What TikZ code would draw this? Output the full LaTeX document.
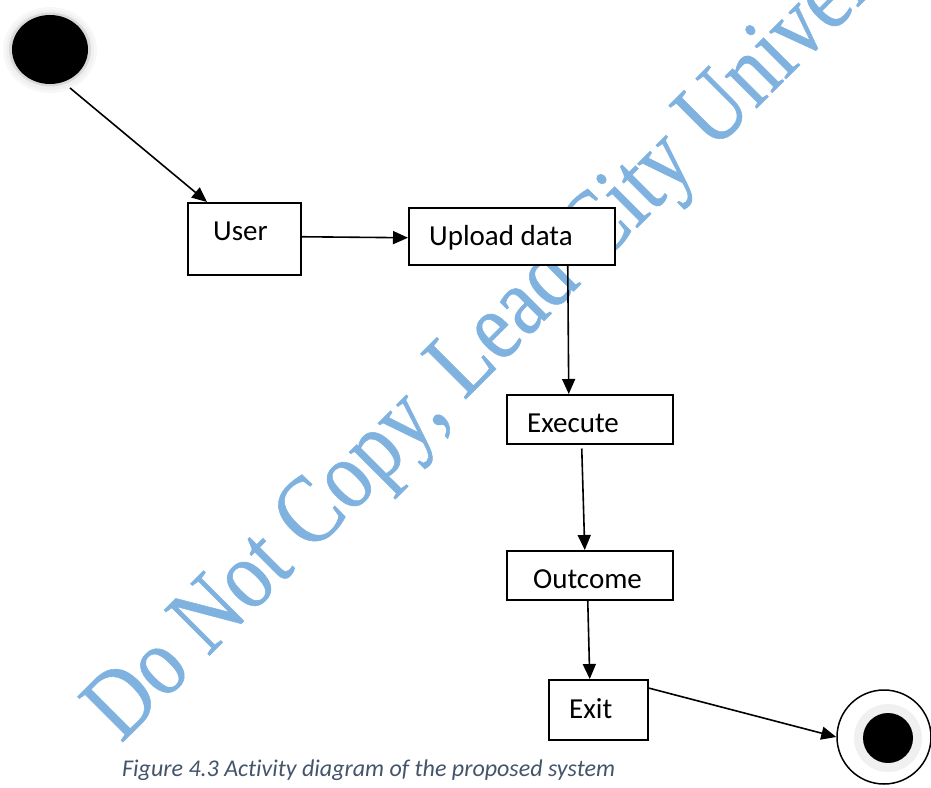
\documentclass[tikz,border=0pt]{standalone}
\usepackage{fontspec}
\setmainfont[Ligatures=CommonOff]{Carlito}
\newfontfamily\wmfont[FakeBold=0.6]{Liberation Serif}
\usetikzlibrary{arrows.meta,calc,shapes.geometric}
\definecolor{wmblue}{RGB}{128,178,224}
\definecolor{capcol}{RGB}{68,84,106}
\definecolor{halo}{RGB}{240,240,240}
\begin{document}
\begin{tikzpicture}[x=1pt,y=-1pt,
  box/.style={draw=black, line width=1.5pt, fill=white, inner sep=0pt, anchor=north west},
  lbl/.style={anchor=base west, inner sep=0pt, font=\fontsize{29}{34}\selectfont},
  conn/.style={line width=1.6pt, -{Triangle[length=15pt,width=13pt]}},
  blob/.style={ellipse, inner sep=0pt},
]
\useasboundingbox (0,0) rectangle (931,787);
\clip (0,0) rectangle (931,787);
% watermark
\begin{scope}[shift={(121,744)}, rotate=45, xscale=0.85, transform shape]
\node[anchor=base west, inner sep=0pt, text=wmblue, font=\wmfont\fontsize{98}{100}\selectfont] (wm) at (0,0) {Do Not Copy, Lead City University};
\end{scope}
% start node (soft edged)
\node[blob, fill=black!3, minimum width=94pt, minimum height=86pt] (starthalo) at (50,50) {};
\node[blob, fill=black!6, minimum width=88pt, minimum height=80pt] (starthalo2) at (50,50) {};
\node[blob, fill=black!15, minimum width=82pt, minimum height=74pt] (starthalo3) at (50,49.5) {};
\node[blob, fill=black, minimum width=76pt, minimum height=69pt] (start) at (50,49.5) {};
% boxes
\node[box, minimum width=113pt, minimum height=72pt] (user) at (187,202) {};
\node[box, minimum width=206pt, minimum height=57pt] (upload) at (408,207) {};
\node[box, minimum width=166pt, minimum height=49pt] (exe) at (506,394) {};
\node[box, minimum width=166pt, minimum height=49pt] (outc) at (506,550) {};
\node[box, minimum width=99pt, minimum height=60pt] (exitb) at (548,679) {};
% labels
\node[lbl] (tuser) at (213,240) {User};
\node[lbl] (tupload) at (429,245) {Upload data};
\node[lbl] (texe) at (527,432) {Execute};
\node[lbl] (toutc) at (533,588) {Outcome};
\node[lbl] (texit) at (569,718) {Exit};
% end node
\node[circle, draw=black, line width=1.5pt, fill=white, minimum size=94pt, inner sep=0pt] (endo) at (884,737) {};
\node[circle, fill=halo, minimum size=68pt, inner sep=0pt] (endg) at (888,738) {};
\node[circle, fill=black, minimum size=50pt, inner sep=0pt] (endi) at (888,738) {};
% connectors
\coordinate (s1) at (70,88);
\draw[conn] (s1) -- ([xshift=20pt]user.north west);
\draw[conn] ([yshift=2pt]user.east) -- ([yshift=-1.5pt]upload.west);
\draw[conn] ([xshift=56pt]upload.south) -- ([xshift=-21pt]exe.north);
\draw[conn] ([xshift=-8pt,yshift=-4pt]exe.south) -- ([xshift=-5pt]outc.north);
\draw[conn] ([xshift=-2pt]outc.south) -- ([xshift=-8.5pt]exitb.north);
\draw[conn] ([yshift=-9pt]exitb.north east) -- (endo.west);
% caption
\node[anchor=base west, inner sep=0pt, text=capcol, font=\itshape\fontsize{24}{28}\selectfont] (cap) at (122,776) {Figure 4.3 Activity diagram of the proposed system};
\end{tikzpicture}
\end{document}
